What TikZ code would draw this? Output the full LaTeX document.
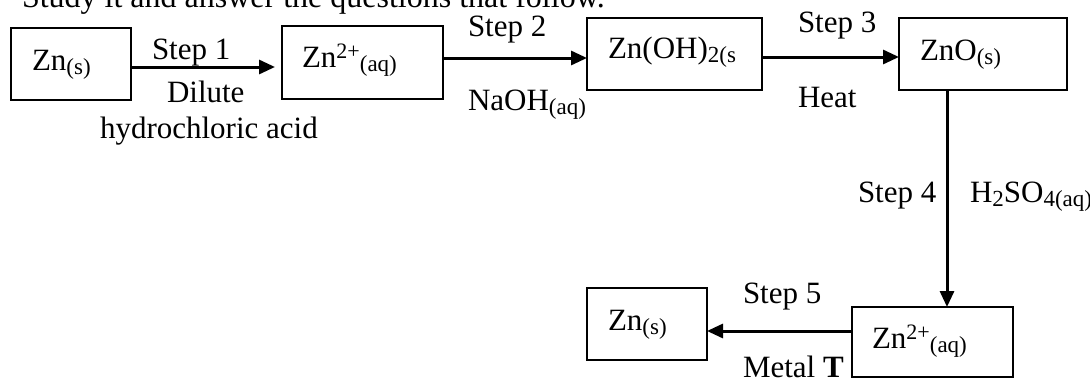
\documentclass[tikz,border=0pt]{standalone}
\usepackage{fontspec}
\setmainfont{Liberation Serif}
\usetikzlibrary{arrows.meta}
\newcommand{\chsb}[1]{\raisebox{-4pt}{\fontsize{23}{23}\selectfont #1}}
\newcommand{\chsp}[1]{\raisebox{9pt}{\fontsize{22}{22}\selectfont #1}}
\newcommand{\bigtxt}{\fontsize{31}{37}\selectfont}
\tikzset{
  every node/.style={inner sep=0pt, outer sep=0pt, font=\bigtxt},
  chembox/.style={draw, line width=1.9pt, rectangle, anchor=north west},
  txt/.style={anchor=base west},
  arr/.style={line width=3pt, -{Triangle[length=16pt, width=14pt]}}
}
\begin{document}
\begin{tikzpicture}[x=1pt, y=-1pt]
\useasboundingbox (0,0) rectangle (1090,378);
% heading (cut off at top)
\node[txt, font=\fontsize{32}{38}\selectfont] (head) at (22,7) {Study it and answer the questions that follow.};
% boxes
\node[chembox, minimum width=120pt, minimum height=72pt] (b1) at (11,28) {};
\node[chembox, minimum width=161pt, minimum height=73pt] (b2) at (282,26) {};
\node[chembox, minimum width=175pt, minimum height=72pt] (b3) at (587,18) {};
\node[chembox, minimum width=168pt, minimum height=72pt] (b4) at (899,18) {};
\node[chembox, minimum width=161pt, minimum height=70pt] (b5) at (852,307) {};
\node[chembox, minimum width=120pt, minimum height=72pt] (b6) at (587,288) {};
% box texts
\node[txt] (t1) at (32,70) {Zn\chsb{(s)}};
\node[txt] (t2) at (302,67) {Zn\chsp{2+}\chsb{(aq)}};
\node[txt] (t3) at (608,58) {Zn(OH)\chsb{2(s}};
\node[txt] (t4) at (920,60) {ZnO\chsb{(s)}};
\node[txt] (t5) at (872,348) {Zn\chsp{2+}\chsb{(aq)}};
\node[txt] (t6) at (608,330) {Zn\chsb{(s)}};
% arrows
\draw[arr, shorten >=7pt] (b1.east |- 0,67) -- (b2.west |- 0,67);
\draw[arr] (b2.east |- 0,58) -- (b3.west |- 0,58);
\draw[arr] (b3.east |- 0,57) -- (b4.west |- 0,57);
\draw[arr] (b4.south -| 947,0) -- (b5.north -| 947,0);
\draw[arr] (b5.west |- 0,331) -- (b6.east |- 0,331);
% labels
\node[txt] (s1) at (152,59) {Step 1};
\node[txt] (c1a) at (167,102) {Dilute};
\node[txt] (c1b) at (100,138) {hydrochloric acid};
\node[txt] (s2) at (468,36) {Step 2};
\node[txt] (c2) at (468,110) {NaOH\chsb{(aq)}};
\node[txt] (s3) at (798,32) {Step 3};
\node[txt] (c3) at (798,107) {Heat};
\node[txt] (s4) at (858,202) {Step 4};
\node[txt] (c4) at (970,202) {H\chsb{2}SO\chsb{4(aq)}};
\node[txt] (s5) at (743,303) {Step 5};
\node[txt] (c5) at (743,377) {Metal \textbf{T}};
\end{tikzpicture}
\end{document}
